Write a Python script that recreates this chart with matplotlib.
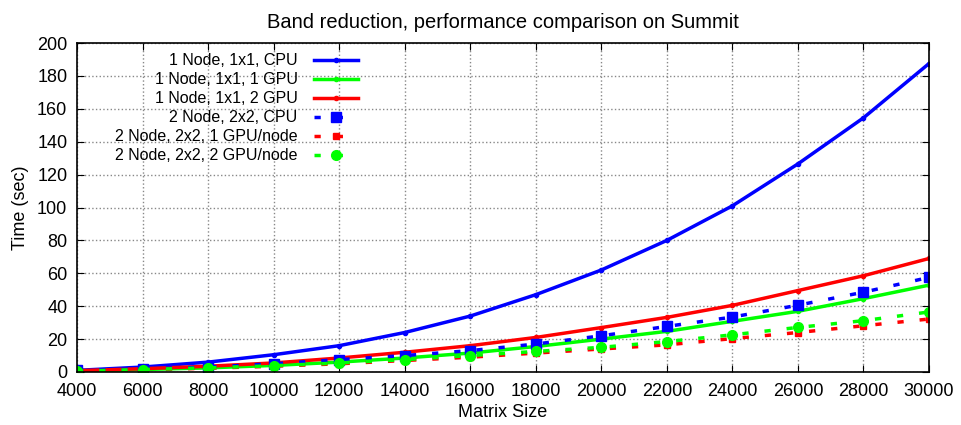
import matplotlib
matplotlib.use('Agg')
import matplotlib.pyplot as plt

plt.rcParams['font.family'] = ['Liberation Sans', 'DejaVu Sans']

sizes = [4000, 6000, 8000, 10000, 12000, 14000, 16000, 18000, 20000,
         22000, 24000, 26000, 28000, 30000]

cpu_1node = [1, 3, 6, 10.5, 16, 24, 34, 47, 62, 80, 101, 126.5, 154.5, 187.5]
gpu1_1node = [0.5, 1.5, 2.5, 4, 6, 8.5, 11.5, 15.5, 20, 24.7, 30.8, 36.9, 44.6, 52.8]
gpu2_1node = [0.8, 2, 3.5, 5.5, 8.5, 12, 16, 21, 27, 33.2, 40.5, 49.5, 58.5, 69]
cpu_2node = [1, 2, 3, 5, 7.5, 10, 13, 17, 22, 27.7, 33.4, 40.6, 48.5, 57.5]
gpu1_2node = [0.5, 1.3, 2.3, 3.5, 5, 7, 9, 11.5, 14, 16.5, 20.3, 24, 28.1, 32.2]
gpu2_2node = [0.5, 1.5, 2.5, 3.8, 5.5, 7.5, 10, 12.5, 15, 18.5, 22.6, 27.1, 31.2, 36.5]

fig, ax = plt.subplots(figsize=(9.61, 4.25), dpi=100)
fig.subplots_adjust(left=77/961, right=929/961, bottom=1-372/425, top=1-43/425)

lw = 2.5
dash = (0, (1.8, 4.6))
ax.plot(sizes, cpu_1node, color='#0000ff', lw=lw, marker='o', ms=3, label='1 Node, 1x1, CPU')
ax.plot(sizes, gpu1_1node, color='#00ff00', lw=lw, marker='o', ms=3, label='1 Node, 1x1, 1 GPU')
ax.plot(sizes, gpu2_1node, color='#ff0000', lw=lw, marker='o', ms=3, label='1 Node, 1x1, 2 GPU')
ax.plot(sizes, cpu_2node, color='#0000ff', lw=lw, ls=dash, marker='s', ms=7, label='2 Node, 2x2, CPU')
ax.plot(sizes, gpu1_2node, color='#ff0000', lw=lw, ls=dash, marker='s', ms=5, label='2 Node, 2x2, 1 GPU/node')
ax.plot(sizes, gpu2_2node, color='#00ff00', lw=lw, ls=dash, marker='o', ms=7, label='2 Node, 2x2, 2 GPU/node')

ax.set_xlim(4000, 30000)
ax.set_ylim(0, 200)
ax.set_xticks(range(4000, 30001, 2000))
ax.set_yticks(range(0, 201, 20))
ax.tick_params(direction='in', top=True, right=True, labelsize=13, length=5)
ax.tick_params(axis='x', pad=8)
ax.tick_params(axis='y', pad=7)
ax.grid(True, color='#888888', linestyle=':', linewidth=1)
for s in ax.spines.values():
    s.set_linewidth(1.2)

ax.set_title('Band reduction, performance comparison on Summit', fontsize=14.5, pad=11)
ax.set_xlabel('Matrix Size', fontsize=13, labelpad=3)
ax.set_ylabel('Time (sec)', fontsize=13, labelpad=6)

leg = ax.legend(loc='upper right', bbox_to_anchor=(0.347, 1.012), frameon=False,
                markerfirst=False, fontsize=11.5, handlelength=2.8,
                labelspacing=0.25, handletextpad=1.0)

plt.savefig('out.png', dpi=100)
plt.close()
